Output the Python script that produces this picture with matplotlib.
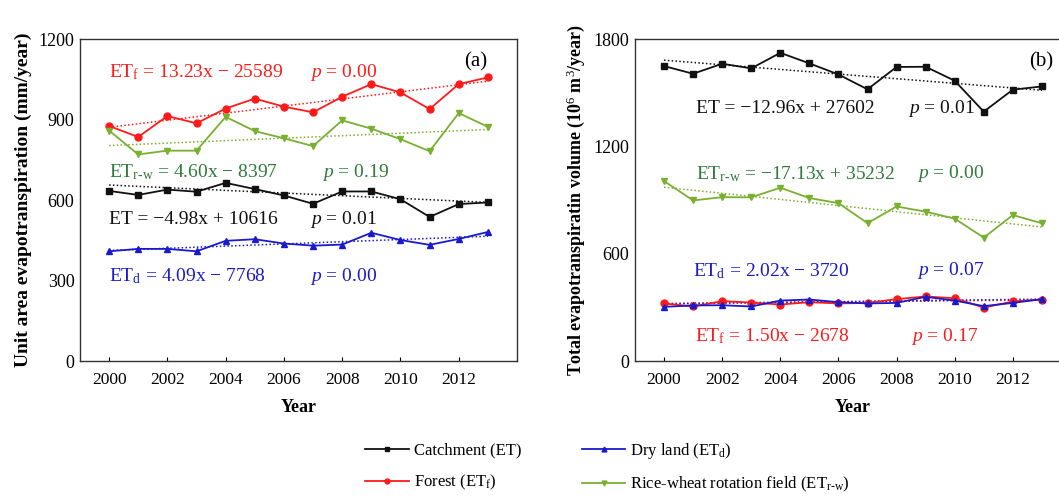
import matplotlib

matplotlib.use("Agg")
import matplotlib.pyplot as plt
from matplotlib.lines import Line2D

plt.rcParams["font.family"] = ["Liberation Serif", "DejaVu Serif"]
plt.rcParams["mathtext.fontset"] = "custom"
plt.rcParams["mathtext.rm"] = "Liberation Serif"
plt.rcParams["mathtext.it"] = "Liberation Serif:italic"

years = list(range(2000, 2014))

# (a) unit area evapotranspiration, mm/year
unit_catchment = [634, 619, 639, 631, 664, 641, 617, 586, 632, 632, 603, 537, 585, 591]
unit_forest = [876, 835, 913, 886, 941, 978, 948, 927, 985, 1032, 1001, 939, 1032, 1057]
unit_dry = [409, 418, 418, 409, 448, 454, 438, 430, 434, 478, 451, 433, 455, 481]
unit_rice = [859, 770, 784, 784, 910, 857, 830, 801, 897, 866, 827, 782, 924, 873]

# (b) total evapotranspiration volume, 10^6 m^3/year
vol_catchment = [1649, 1606, 1662, 1636, 1723, 1664, 1602, 1519, 1644, 1645, 1567, 1394, 1517, 1535]
vol_forest = [322, 305, 335, 327, 316, 329, 322, 325, 346, 361, 351, 299, 333, 344]
vol_dry = [303, 311, 312, 305, 338, 344, 329, 322, 325, 359, 338, 307, 325, 346]
vol_rice = [1006, 898, 916, 915, 969, 911, 883, 771, 864, 835, 796, 690, 816, 770]

# fitted trends (slope, intercept, p)
fit_a = {
    "catchment": (-4.98, 10616, "0.01"),
    "forest": (13.23, -25589, "0.00"),
    "dry": (4.09, -7768, "0.00"),
    "rice": (4.60, -8397, "0.19"),
}
fit_b = {
    "catchment": (-12.96, 27602, "0.01"),
    "forest": (1.50, -2678, "0.17"),
    "dry": (2.02, -3720, "0.07"),
    "rice": (-17.13, 35232, "0.00"),
}

BLACK = "#111111"
RED = "#ff1a1a"
BLUE = "#1a1acc"
GREEN = "#79b030"
DKGREEN = "#2f7a3a"
style = {
    "catchment": (BLACK, "s"),
    "forest": (RED, "o"),
    "dry": (BLUE, "^"),
    "rice": (GREEN, "v"),
}


def eq_text(name, slope, intercept):
    sign = "\u2212" if intercept < 0 else "+"
    s = f"{slope:.2f}".replace("-", "\u2212")
    return f"{name} = {s}x {sign} {abs(intercept)}"


def draw_panel(ax, series, fits, ymax, yticks):
    for key, vals in series.items():
        color, marker = style[key]
        ax.plot(years, vals, color=color, marker=marker, markersize=5, linewidth=1.3, zorder=3)
        slope, intercept, _ = fits[key]
        trend = [slope * y + intercept for y in years]
        ax.plot(years, trend, color=color, linestyle=(0, (1, 1.5)), linewidth=1.1, zorder=2)
    ax.set_xlim(1999, 2014)
    ax.set_ylim(0, ymax)
    ax.set_xticks(range(2000, 2014, 2))
    ax.set_yticks(yticks)
    ax.tick_params(axis="x", direction="in", length=3, labelsize=12.5, pad=8)
    ax.tick_params(axis="y", length=0, labelsize=13, pad=4)
    for sp in ax.spines.values():
        sp.set_color("#333333")
        sp.set_linewidth(1.0)
    ax.set_xlabel("Year", fontsize=13, fontweight="bold", labelpad=8)


fig = plt.figure(figsize=(10.59, 4.98), dpi=100)
ax_a = fig.add_axes([0.0755, 0.275, 0.4127, 0.6466])
ax_b = fig.add_axes([0.5996, 0.275, 0.4117, 0.6466])

draw_panel(
    ax_a,
    {"catchment": unit_catchment, "forest": unit_forest, "dry": unit_dry, "rice": unit_rice},
    fit_a, 1200, [0, 300, 600, 900, 1200],
)
draw_panel(
    ax_b,
    {"catchment": vol_catchment, "forest": vol_forest, "dry": vol_dry, "rice": vol_rice},
    fit_b, 1800, [0, 600, 1200, 1800],
)
ax_a.set_ylabel("Unit area evapotranspiration (mm/year)", fontsize=14, fontweight="bold", labelpad=5)
ax_b.set_ylabel(r"Total evapotranspiratin volume (10$^{6}$ m$^{3}$/year)", fontsize=13,
                fontweight="bold", labelpad=5)

ax_a.text(0.88, 0.93, "(a)", transform=ax_a.transAxes, fontsize=15, ha="left", va="center")
ax_b.text(0.905, 0.93, "(b)", transform=ax_b.transAxes, fontsize=15, ha="left", va="center")

names = {
    "catchment": "ET",
    "forest": r"ET$_{\mathrm{f}}$",
    "dry": r"ET$_{\mathrm{d}}$",
    "rice": r"ET$_{\text{r-w}}$",
}
colors_txt = {"catchment": BLACK, "forest": RED, "dry": BLUE, "rice": DKGREEN}

# equation labels: (x, y) of text start, x of the p-value
labels_a = {
    "forest": (2000, 1075, 2006.9),
    "rice": (2000, 703, 2007.3),
    "catchment": (2000, 526, 2006.9),
    "dry": (2000, 315, 2006.9),
}
labels_b = {
    "catchment": (2001.1, 1409, 2008.4),
    "rice": (2001.1, 1047, 2008.7),
    "dry": (2001.0, 504, 2008.7),
    "forest": (2001.05, 139, 2008.5),
}
for ax, labels, fits in ((ax_a, labels_a, fit_a), (ax_b, labels_b, fit_b)):
    for key, (x, y, xp) in labels.items():
        slope, intercept, p = fits[key]
        c = colors_txt[key]
        ax.text(x, y, eq_text(names[key], slope, intercept), color=c, fontsize=14,
                ha="left", va="center")
        ax.text(xp, y, f"$p$ = {p}", color=c, fontsize=14, ha="left", va="center")

handles = [
    Line2D([], [], color=BLACK, marker="s", markersize=3.5, linewidth=1.3),
    Line2D([], [], color=RED, marker="o", markersize=3.5, linewidth=1.3),
    Line2D([], [], color=BLUE, marker="^", markersize=3.5, linewidth=1.3),
    Line2D([], [], color=GREEN, marker="v", markersize=3.5, linewidth=1.3),
]
legend_labels = [
    "Catchment (ET)",
    r"Forest (ET$_{\mathrm{f}}$)",
    r"Dry land (ET$_{\mathrm{d}}$)",
    r"Rice-wheat rotation field (ET$_{\text{r-w}}$)",
]
fig.legend(handles, legend_labels, ncol=2, loc="center", bbox_to_anchor=(0.574, 0.061),
           frameon=False, fontsize=12, handlelength=2.6, handletextpad=0.3,
           columnspacing=3.65, labelspacing=0.87)

fig.savefig("out.png", dpi=100)
